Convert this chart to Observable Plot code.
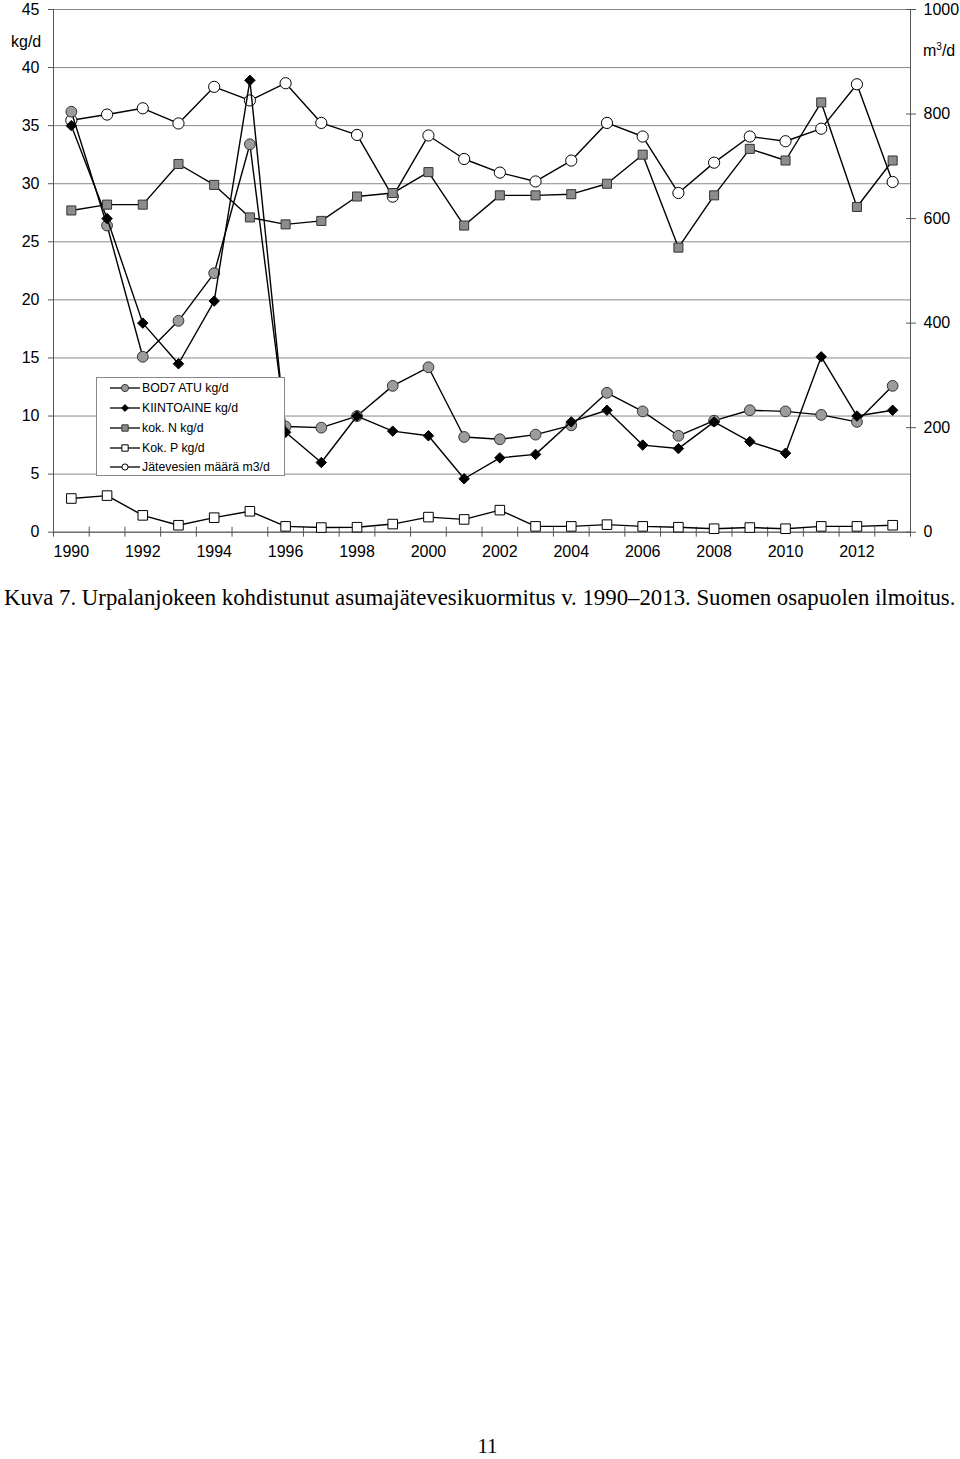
<!DOCTYPE html>
<html>
<head>
<meta charset="utf-8">
<script src="https://cdn.jsdelivr.net/npm/d3@7"></script>
<script src="https://cdn.jsdelivr.net/npm/@observablehq/plot@0.6"></script>
<style>
  body { margin: 0; background: #fff; }
  #page { position: relative; width: 960px; height: 1459px; overflow: hidden; background: #fff; }
  #chart { position: absolute; left: 0; top: 0; }
  .unit { position: absolute; font-family: "Liberation Sans", Arial, sans-serif; font-size: 16px; color: #000; }
  #legend { position: absolute; left: 96px; top: 377px; width: 189px; height: 99px; box-sizing: border-box;
            border: 1px solid #888; background: #fff; font-family: "Liberation Sans", Arial, sans-serif; font-size: 12.3px; }
  #legend .row { position: absolute; left: 0; height: 20px; display: flex; align-items: center; }
  #legend svg { margin-left: 13px; margin-right: 2px; }
  #caption { position: absolute; left: 4px; top: 585px; font-family: "Liberation Serif", "Times New Roman", serif; font-size: 22.8px; white-space: nowrap; color: #000; }
  #pageno { position: absolute; left: 0; width: 975px; text-align: center; top: 1434px; font-family: "Liberation Serif", "Times New Roman", serif; font-size: 21px; }
</style>
</head>
<body>
<div id="page">
  <div id="chart"></div>
  <div class="unit" style="left:11px; top:33px;">kg/d</div>
  <div class="unit" style="left:923px; top:41px;">m<sup style="font-size:10px; vertical-align: 6px;">3</sup>/d</div>
  <div id="legend"></div>
  <div id="caption">Kuva 7. Urpalanjokeen kohdistunut asumajätevesikuormitus v. 1990–2013. Suomen osapuolen ilmoitus.</div>
  <div id="pageno">11</div>
</div>
<script>
const years = [1990,1991,1992,1993,1994,1995,1996,1997,1998,1999,2000,2001,2002,2003,2004,2005,2006,2007,2008,2009,2010,2011,2012,2013];
const bod7 = [36.2,26.4,15.1,18.2,22.3,33.4,9.1,9.0,10.0,12.6,14.2,8.2,8.0,8.4,9.2,12.0,10.4,8.3,9.6,10.5,10.4,10.1,9.5,12.6];
const kiintoaine = [35.0,27.0,18.0,14.5,19.9,38.9,8.6,6.0,10.0,8.7,8.3,4.6,6.4,6.7,9.5,10.5,7.5,7.2,9.5,7.8,6.8,15.1,10.0,10.5];
const kokN = [27.7,28.2,28.2,31.7,29.9,27.1,26.5,26.8,28.9,29.2,31.0,26.4,29.0,29.0,29.1,30.0,32.5,24.5,29.0,33.0,32.0,37.0,28.0,32.0];
const kokP = [2.9,3.15,1.45,0.6,1.25,1.8,0.5,0.4,0.43,0.7,1.3,1.1,1.9,0.5,0.5,0.65,0.5,0.43,0.3,0.4,0.3,0.5,0.5,0.6];
const jatevesi = [788,799,811,782,852,826,859,783,760,642,759,714,688,671,711,783,757,649,707,757,748,772,857,670];

const leftTicks = [0,5,10,15,20,25,30,35,40,45];
const rightTicks = [0,200,400,600,800,1000];
const xLabelYears = [1990,1992,1994,1996,1998,2000,2002,2004,2006,2008,2010,2012];
const seriesNames = ["BOD7 ATU kg/d","KIINTOAINE kg/d","kok. N kg/d","Kok. P kg/d","Jätevesien määrä m3/d"];

const leftMax = 45, rightMax = 1000;
const toLeft = v => v * leftMax / rightMax;

const rows = years.map((year, i) => ({year, bod: bod7[i], kiinto: kiintoaine[i], n: kokN[i], p: kokP[i], w: jatevesi[i]}));
const bounds = d3.range(years[0] - 0.5, years[years.length - 1] + 1, 1);

const lineOpts = {stroke: "#000", strokeWidth: 1.4};
const chart = Plot.plot({
  width: 960,
  height: 570,
  marginTop: 9,
  marginBottom: 38.3,
  marginLeft: 53,
  marginRight: 50,
  style: {fontFamily: '"Liberation Sans", Arial, sans-serif', fontSize: "16px", color: "#000", background: "#fff"},
  x: {type: "linear", domain: [years[0] - 0.5, years[years.length - 1] + 0.5]},
  y: {domain: [0, leftMax]},
  marks: [
    Plot.gridY(leftTicks, {stroke: "#8a8a8a", strokeOpacity: 1, strokeWidth: 1}),
    // left axis
    Plot.axisY(leftTicks, {anchor: "left", tickSize: 5, tickPadding: 9, stroke: "#555", label: null, fontSize: 16}),
    // right axis (secondary, m3/d)
    Plot.axisY(rightTicks.map(toLeft), {anchor: "right", tickSize: 10, dx: -5, tickFormat: () => "", stroke: "#555", label: null}),
    Plot.axisY(rightTicks.map(toLeft), {anchor: "right", tickSize: 0, tickPadding: 13, tickFormat: d => String(Math.round(d * rightMax / leftMax)), label: null, fontSize: 16}),
    // x axis
    Plot.axisX(bounds, {anchor: "bottom", tickSize: 10, dy: -5, tickFormat: () => "", stroke: "#555", label: null}),
    Plot.axisX(xLabelYears, {anchor: "bottom", tickSize: 0, tickPadding: 13, tickFormat: d => String(d), label: null, fontSize: 16}),
    Plot.ruleX([years[0] - 0.5, years[years.length - 1] + 0.5], {stroke: "#555", strokeWidth: 1}),
    Plot.ruleY([0], {stroke: "#555", strokeWidth: 1}),
    // Jätevesien määrä (secondary axis)
    Plot.line(rows, {x: "year", y: d => toLeft(d.w), ...lineOpts}),
    Plot.dot(rows, {x: "year", y: d => toLeft(d.w), symbol: "circle", r: 5.6, fill: "#fff", stroke: "#000", strokeWidth: 1}),
    // BOD7
    Plot.line(rows, {x: "year", y: "bod", ...lineOpts}),
    Plot.dot(rows, {x: "year", y: "bod", symbol: "circle", r: 5.4, fill: "#9c9c9c", stroke: "#333", strokeWidth: 1}),
    // KIINTOAINE
    Plot.line(rows, {x: "year", y: "kiinto", ...lineOpts}),
    Plot.dot(rows, {x: "year", y: "kiinto", symbol: "diamond2", r: 4.7, fill: "#000", stroke: "#000", strokeWidth: 1}),
    // kok. N
    Plot.line(rows, {x: "year", y: "n", ...lineOpts}),
    Plot.dot(rows, {x: "year", y: "n", symbol: "square", r: 5.1, fill: "#8c8c8c", stroke: "#333", strokeWidth: 1}),
    // Kok. P
    Plot.line(rows, {x: "year", y: "p", ...lineOpts}),
    Plot.dot(rows, {x: "year", y: "p", symbol: "square", r: 5.4, fill: "#fff", stroke: "#000", strokeWidth: 1})
  ]
});
document.getElementById("chart").appendChild(chart);

// legend
const legendMarkers = [
  {sym: d3.symbolCircle, size: 40, fill: "#9c9c9c", stroke: "#333"},
  {sym: d3.symbolDiamond2, size: 30, fill: "#000", stroke: "#000"},
  {sym: d3.symbolSquare, size: 40, fill: "#8c8c8c", stroke: "#333"},
  {sym: d3.symbolSquare, size: 40, fill: "#fff", stroke: "#000"},
  {sym: d3.symbolCircle, size: 30, fill: "#fff", stroke: "#000"}
];
const legend = document.getElementById("legend");
const rowTops = [0, 20, 40, 59.5, 79];
seriesNames.forEach((name, i) => {
  const row = document.createElement("div");
  row.className = "row";
  row.style.top = rowTops[i] + "px";
  const m = legendMarkers[i];
  const svg = d3.create("svg").attr("width", 30).attr("height", 14);
  svg.append("line").attr("x1", 0).attr("x2", 30).attr("y1", 7).attr("y2", 7).attr("stroke", "#000").attr("stroke-width", 1.3);
  svg.append("path").attr("d", d3.symbol(m.sym, m.size)()).attr("transform", "translate(15,7)")
     .attr("fill", m.fill).attr("stroke", m.stroke).attr("stroke-width", 1);
  row.appendChild(svg.node());
  const span = document.createElement("span");
  span.textContent = name;
  row.appendChild(span);
  legend.appendChild(row);
});
</script>
</body>
</html>
